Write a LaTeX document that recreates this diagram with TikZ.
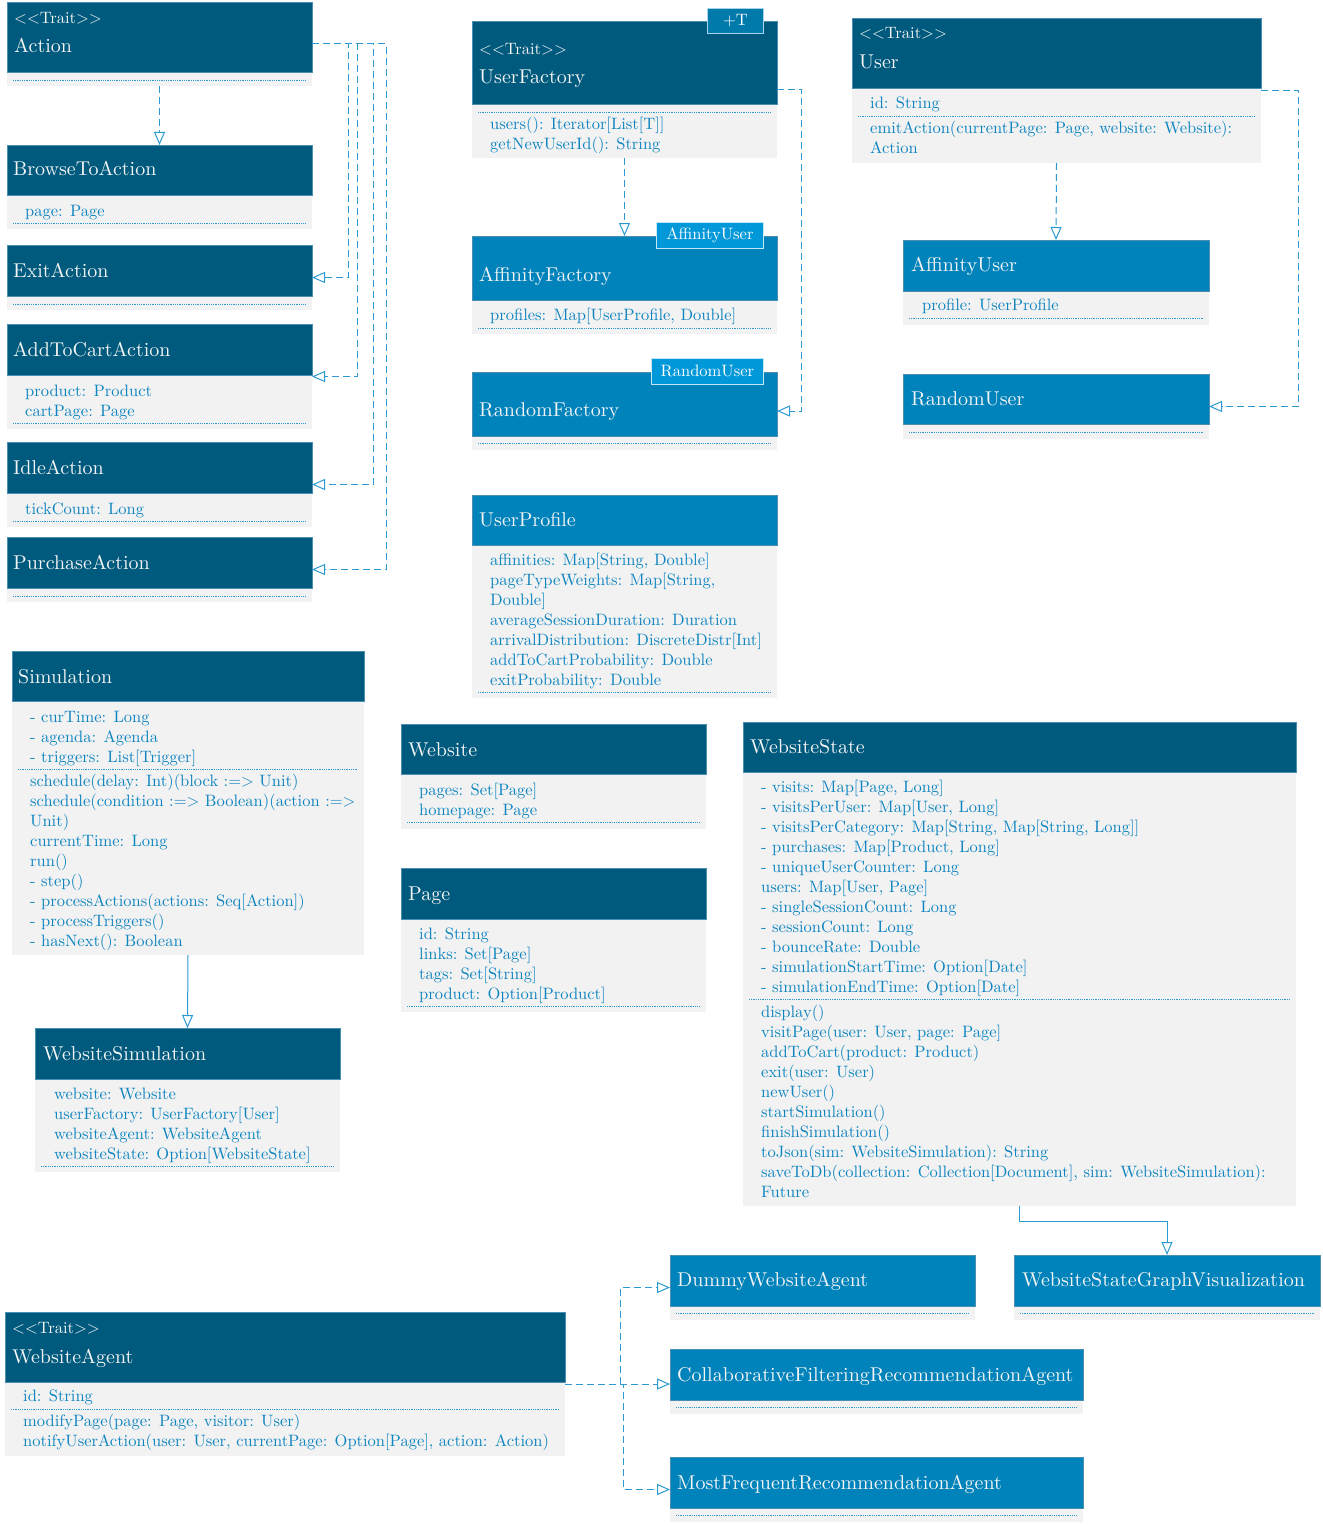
\documentclass[tikz,border=0pt]{standalone}
\usepackage{fontspec}
\setmainfont{lmroman10-regular}[Extension=.otf, BoldFont=lmroman10-bold, ItalicFont=lmroman10-italic, BoldItalicFont=lmroman10-bolditalic]
\usetikzlibrary{arrows.meta}
\definecolor{hdark}{HTML}{005A7D}
\definecolor{hlight}{HTML}{0083BB}
\definecolor{hborder}{HTML}{4A8FB2}
\definecolor{bodyfill}{HTML}{F2F2F2}
\definecolor{txtblue}{HTML}{0D84C0}
\definecolor{lineblue}{HTML}{2B9AD2}
\definecolor{hdrtext}{HTML}{F4F4F4}
\definecolor{tagdark}{HTML}{0079AB}
\definecolor{tagdarkb}{HTML}{A8D4EA}
\definecolor{taglight}{HTML}{0098D8}
\definecolor{taglightb}{HTML}{C4E6F6}
\newcommand\bodyfont{\fontsize{16.5}{20}\selectfont}
\newcommand\ttlfont{\fontsize{20}{24}\selectfont}
\newcommand\trait{<\kern0pt<Trait>\kern0pt>}
\tikzset{
  wholebox/.style={rectangle, anchor=north west, inner sep=0pt, outer sep=0pt},
  hdrbox/.style={rectangle, anchor=north west, inner sep=0pt, outer sep=0pt, draw=hborder, line width=0.6pt},
  bodybox/.style={rectangle, anchor=north west, inner sep=0pt, outer sep=0pt, fill=bodyfill},
  sepline/.style={draw=lineblue, line width=0.8pt, dash pattern=on 0.9pt off 0.9pt},
  ttl/.style={anchor=base west, inner sep=0pt, text=hdrtext, font=\ttlfont},
  trt/.style={anchor=base west, inner sep=0pt, text=hdrtext, font=\bodyfont},
  lns/.style={anchor=north west, inner sep=0pt, text=txtblue, font=\bodyfont, align=left},
  tagbox/.style={rectangle, anchor=north west, inner sep=0pt, text=white, font=\bodyfont, line width=0.8pt},
  dep/.style={draw=lineblue, line width=1pt, dash pattern=on 7pt off 4pt, -{Triangle[open, length=13pt, width=11pt, fill=white]}},
  inh/.style={draw=lineblue, line width=1pt, -{Triangle[open, length=13pt, width=11pt, fill=white]}},
}
% name, x1, y1, x2, yhead, y2, header colour, separator y
\newcommand\uclass[8]{%
  \node[wholebox, minimum width={(#4-#2)*1pt}, minimum height={(#6-#3)*1pt}] (#1) at (#2,#3) {};
  \node[bodybox, minimum width={(#4-#2)*1pt}, minimum height={(#6-#5)*1pt}] (#1-b) at (#2,#5) {};
  \node[hdrbox, fill=#7, minimum width={(#4-#2)*1pt}, minimum height={(#5-#3)*1pt}] (#1-h) at (#2,#3) {};
  \draw[sepline] (#2+6,#8) -- (#4-6,#8);
}
\newcommand\ttlat[4]{\node[ttl] (#1) at (#2,#3) {#4};}
\newcommand\trtat[3]{\node[trt] (#1) at (#2,#3) {\trait};}
\newcommand\lnsat[4]{\node[lns] (#1) at (#2,#3-14) {\strut #4};}
\begin{document}
\begin{tikzpicture}[x=1pt, y=-1pt]
\fill[white] (0,0) rectangle (1322,1525);
\useasboundingbox (0,0) rectangle (1322,1525);

% ---- classes
\uclass{Action}{7}{2}{312}{72}{86}{hdark}{80}
\uclass{BrowseToAction}{7}{145}{312}{195}{229}{hdark}{223}
\uclass{ExitAction}{7}{245}{312}{296}{310}{hdark}{304}
\uclass{AddToCartAction}{7}{324}{312}{375}{429}{hdark}{423}
\uclass{IdleAction}{7}{442}{312}{493}{527}{hdark}{521}
\uclass{PurchaseAction}{7}{537}{312}{588}{602}{hdark}{596}
\uclass{UserFactory}{472}{21}{777}{104}{158}{hdark}{112}
\uclass{AffinityFactory}{472}{236}{777}{300}{334}{hlight}{328}
\uclass{RandomFactory}{472}{372}{777}{436}{450}{hlight}{443}
\uclass{User}{852}{18}{1261}{88}{163}{hdark}{116}
\uclass{AffinityUser}{903}{240}{1209}{291}{325}{hlight}{318}
\uclass{RandomUser}{903}{374}{1209}{424}{439}{hlight}{432}
\uclass{UserProfile}{472}{495}{777}{545}{698}{hlight}{692}
\uclass{Simulation}{12}{651}{364}{701}{955}{hdark}{769}
\uclass{WebsiteSimulation}{35}{1028}{340}{1079}{1172}{hdark}{1166}
\uclass{Website}{401}{724}{706}{774}{829}{hdark}{822}
\uclass{Page}{401}{868}{706}{919}{1012}{hdark}{1006}
\uclass{WebsiteState}{743}{722}{1296}{772}{1206}{hdark}{999}
\uclass{DummyWebsiteAgent}{670}{1255}{975}{1306}{1320}{hlight}{1313}
\uclass{WSGV}{1014}{1255}{1320}{1306}{1320}{hlight}{1313}
\uclass{CFRA}{670}{1349}{1083}{1400}{1414}{hlight}{1407}
\uclass{MFRA}{670}{1457}{1083}{1508}{1522}{hlight}{1515}
\uclass{WebsiteAgent}{5}{1312}{565}{1382}{1456}{hdark}{1409}

% ---- template tags
\node[tagbox, fill=tagdark, draw=tagdarkb, minimum width=56pt, minimum height=25pt] (UFtag) at (707,8) {+T};
\node[tagbox, fill=taglight, draw=taglightb, minimum width=107pt, minimum height=26pt] (AFtag) at (656,222) {AffinityUser};
\node[tagbox, fill=taglight, draw=taglightb, minimum width=112pt, minimum height=26pt] (RFtag) at (651,358) {RandomUser};

% ---- texts
\trtat{Action-s}{14}{24}
\ttlat{Action-t}{14}{53}{Action}
\ttlat{BrowseToAction-t}{13}{176}{BrowseToAction}
\lnsat{BrowseToAction-a}{25}{216}{page: Page}
\ttlat{ExitAction-t}{13}{277}{ExitAction}
\ttlat{AddToCartAction-t}{13}{356}{AddToCartAction}
\lnsat{AddToCartAction-a}{25}{396}{product: Product\\cartPage: Page}
\ttlat{IdleAction-t}{13}{474}{IdleAction}
\lnsat{IdleAction-a}{25}{514}{tickCount: Long}
\ttlat{PurchaseAction-t}{13}{569}{PurchaseAction}

\trtat{UserFactory-s}{479}{55}
\ttlat{UserFactory-t}{479}{84}{UserFactory}
\lnsat{UserFactory-m}{490}{129}{users(): Iterator[List[T]]\\getNewUserId(): String}
\ttlat{AffinityFactory-t}{479}{281}{AffinityFactory}
\lnsat{AffinityFactory-a}{490}{320}{profiles: Map[UserProfile, Double]}
\ttlat{RandomFactory-t}{479}{416}{RandomFactory}

\trtat{User-s}{859}{39}
\ttlat{User-t}{859}{69}{User}
\lnsat{User-a}{870}{108}{id: String}
\lnsat{User-m}{870}{133}{emitAction(currentPage: Page, website: Website):\\Action}
\ttlat{AffinityUser-t}{911}{271}{AffinityUser}
\lnsat{AffinityUser-a}{922}{310}{profile: UserProfile}
\ttlat{RandomUser-t}{911}{405}{RandomUser}

\ttlat{UserProfile-t}{479}{526}{UserProfile}
\lnsat{UserProfile-a}{490}{565}{affinities: Map[String, Double]\\pageTypeWeights: Map[String,\\Double]\\averageSessionDuration: Duration\\arrivalDistribution: DiscreteDistr[Int]\\addToCartProbability: Double\\exitProbability: Double}

\ttlat{Simulation-t}{18}{683}{Simulation}
\lnsat{Simulation-a}{30}{722}{- curTime: Long\\- agenda: Agenda\\- triggers: List[Trigger]}
\lnsat{Simulation-m}{30}{786}{schedule(delay: Int)(block :=> Unit)\\schedule(condition :=> Boolean)(action :=>\\Unit)\\currentTime: Long\\run()\\- step()\\- processActions(actions: Seq[Action])\\- processTriggers()\\- hasNext(): Boolean}

\ttlat{WebsiteSimulation-t}{43}{1060}{WebsiteSimulation}
\lnsat{WebsiteSimulation-a}{54}{1099}{website: Website\\userFactory: UserFactory[User]\\websiteAgent: WebsiteAgent\\websiteState: Option[WebsiteState]}

\ttlat{Website-t}{408}{756}{Website}
\lnsat{Website-a}{419}{795}{pages: Set[Page]\\homepage: Page}
\ttlat{Page-t}{408}{900}{Page}
\lnsat{Page-a}{419}{939}{id: String\\links: Set[Page]\\tags: Set[String]\\product: Option[Product]}

\ttlat{WebsiteState-t}{750}{753}{WebsiteState}
\lnsat{WebsiteState-a}{761}{792}{- visits: Map[Page, Long]\\- visitsPerUser: Map[User, Long]\\- visitsPerCategory: Map[String, Map[String, Long]]\\- purchases: Map[Product, Long]\\- uniqueUserCounter: Long\\users: Map[User, Page]\\- singleSessionCount: Long\\- sessionCount: Long\\- bounceRate: Double\\- simulationStartTime: Option[Date]\\- simulationEndTime: Option[Date]}
\lnsat{WebsiteState-m}{761}{1017}{display()\\visitPage(user: User, page: Page]\\addToCart(product: Product)\\exit(user: User)\\newUser()\\startSimulation()\\finishSimulation()\\toJson(sim: WebsiteSimulation): String\\saveToDb(collection: Collection[Document], sim: WebsiteSimulation):\\Future}

\ttlat{DummyWebsiteAgent-t}{677}{1286}{DummyWebsiteAgent}
\ttlat{WSGV-t}{1022}{1286}{WebsiteStateGraphVisualization}
\ttlat{CFRA-t}{677}{1381}{CollaborativeFilteringRecommendationAgent}
\ttlat{MFRA-t}{677}{1489}{MostFrequentRecommendationAgent}

\trtat{WebsiteAgent-s}{12}{1333}
\ttlat{WebsiteAgent-t}{12}{1363}{WebsiteAgent}
\lnsat{WebsiteAgent-a}{23}{1401}{id: String}
\lnsat{WebsiteAgent-m}{23}{1426}{modifyPage(page: Page, visitor: User)\\notifyUserAction(user: User, currentPage: Option[Page], action: Action)}

% ---- connectors
\draw[dep] (Action.south) -- (BrowseToAction.north);
\draw[dep] (Action.east) -| ([xshift=36pt]ExitAction.east) -- (ExitAction.east);
\draw[dep] (Action.east) -| ([xshift=45pt]AddToCartAction.east) -- (AddToCartAction.east);
\draw[dep] (Action.east) -| ([xshift=61pt]IdleAction.east) -- (IdleAction.east);
\draw[dep] (Action.east) -| ([xshift=74pt]PurchaseAction.east) -- (PurchaseAction.east);

\draw[dep] (UserFactory.south) -- (AffinityFactory.north);
\draw[dep] (UserFactory.east) -| ([xshift=24pt]RandomFactory.east) -- (RandomFactory.east);

\draw[dep] (User.south) -- (AffinityUser.north);
\draw[dep] (User.east) -| ([xshift=89pt]RandomUser.east) -- (RandomUser.east);

\draw[inh] (Simulation.south) -- (WebsiteSimulation.north);
\draw[inh] (WebsiteState.south) -- ++(0,15) -| (WSGV.north);

\draw[dep] (WebsiteAgent.east) -- ++(55,0) |- (DummyWebsiteAgent.west);
\draw[dep] (WebsiteAgent.east) -- (WebsiteAgent.east -| CFRA.west);
\draw[dep] (WebsiteAgent.east) -- ++(58,0) |- (MFRA.west);
\end{tikzpicture}
\end{document}
